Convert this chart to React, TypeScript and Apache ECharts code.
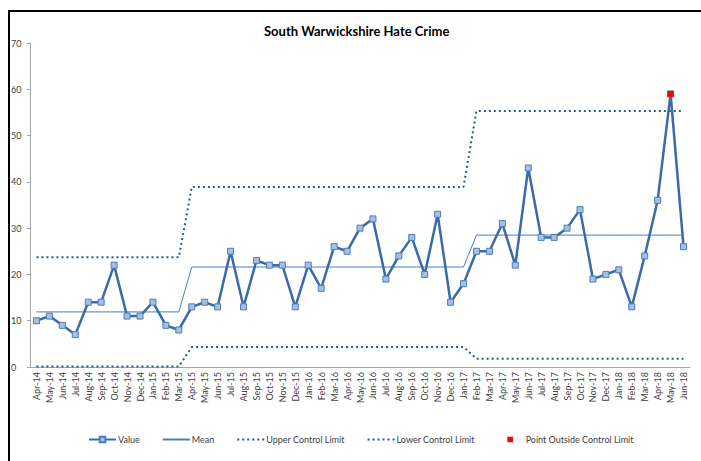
import React, { useEffect, useRef } from "react";
import * as echarts from "echarts";

const months: string[] = [
  "Apr-14","May-14","Jun-14","Jul-14","Aug-14","Sep-14","Oct-14","Nov-14","Dec-14","Jan-15","Feb-15","Mar-15",
  "Apr-15","May-15","Jun-15","Jul-15","Aug-15","Sep-15","Oct-15","Nov-15","Dec-15","Jan-16","Feb-16","Mar-16",
  "Apr-16","May-16","Jun-16","Jul-16","Aug-16","Sep-16","Oct-16","Nov-16","Dec-16","Jan-17","Feb-17","Mar-17",
  "Apr-17","May-17","Jun-17","Jul-17","Aug-17","Sep-17","Oct-17","Nov-17","Dec-17","Jan-18","Feb-18","Mar-18",
  "Apr-18","May-18","Jun-18",
];

const values: number[] = [
  10, 11, 9, 7, 14, 14, 22, 11, 11, 14, 9, 8,
  13, 14, 13, 25, 13, 23, 22, 22, 13, 22, 17, 26,
  25, 30, 32, 19, 24, 28, 20, 33, 14, 18, 25, 25,
  31, 22, 43, 28, 28, 30, 34, 19, 20, 21, 13, 24,
  36, 59, 26,
];

// Mean / control limits per phase (phase lengths in months)
const phaseLengths: number[] = [12, 22, 17];
const phaseMean: number[] = [11.9, 21.6, 28.5];
const phaseUpper: number[] = [23.7, 38.9, 55.3];
const phaseLower: number[] = [0.1, 4.3, 1.8];

const outsideIndex: number[] = [49];

const yTicks = { min: 0, max: 70, interval: 10 };

function expand(arr: number[]): number[] {
  const out: number[] = [];
  phaseLengths.forEach((len, i) => {
    for (let k = 0; k < len; k++) out.push(arr[i]);
  });
  return out;
}

export default function App() {
  const ref = useRef<HTMLDivElement>(null);
  useEffect(() => {
    if (!ref.current) return;
    const chart = echarts.init(ref.current, undefined, { renderer: "svg" });
    const mean = expand(phaseMean);
    const upper = expand(phaseUpper);
    const lower = expand(phaseLower);
    const outside = values.map((v, i) => (outsideIndex.includes(i) ? v : null));
    const font = "Lato, 'Open Sans', sans-serif";
    chart.setOption({
      animation: false,
      textStyle: { fontFamily: font },
      title: {
        text: "South Warwickshire Hate Crime",
        left: 259,
        top: 19,
        textStyle: { fontSize: 13, fontWeight: "bold", color: "#000", fontFamily: font },
      },
      graphic: [
        {
          type: "rect",
          shape: { x: 9, y: 11, width: 720, height: 480 },
          style: { fill: "none", stroke: "#000", lineWidth: 2 },
          silent: true,
        },
      ],
      grid: { left: 30, right: 11, top: 43, bottom: 94, containLabel: false },
      xAxis: {
        type: "category",
        data: months,
        boundaryGap: true,
        axisLine: { lineStyle: { color: "#a6a6a6", width: 1 } },
        axisTick: { show: false },
        axisLabel: {
          rotate: 90,
          interval: 0,
          fontSize: 9,
          color: "#404040",
          margin: 5,
          fontFamily: font,
        },
      },
      yAxis: {
        type: "value",
        min: yTicks.min,
        max: yTicks.max,
        interval: yTicks.interval,
        splitLine: { show: false },
        axisLine: { show: true, lineStyle: { color: "#a6a6a6" } },
        axisTick: { show: true, length: 3, lineStyle: { color: "#a6a6a6" } },
        axisLabel: { fontSize: 9, color: "#404040", margin: 19, fontFamily: font, align: "left" },
      },
      legend: {
        bottom: 12,
        left: 83,
        itemGap: 22,
        itemWidth: 27,
        itemHeight: 7,
        textStyle: { fontSize: 9, color: "#404040", fontFamily: font, padding: [0, 0, 0, -3] },
        data: [
          { name: "Value" },
          { name: "Mean", itemStyle: { opacity: 0 } },
          { name: "Upper Control Limit", itemStyle: { opacity: 0 } },
          { name: "Lower Control Limit", itemStyle: { opacity: 0 } },
          { name: "Point Outside Control Limit" },
        ],
      },
      series: [
        {
          name: "Mean",
          type: "line",
          data: mean,
          symbol: "none",
          lineStyle: { color: "#4a7ebb", width: 1 },
          itemStyle: { color: "#4a7ebb" },
          z: 2,
        },
        {
          name: "Upper Control Limit",
          type: "line",
          data: upper,
          symbol: "none",
          lineStyle: { color: "#2c5697", width: 2, type: [2, 3] },
          itemStyle: { color: "#2c5697" },
          z: 2,
        },
        {
          name: "Lower Control Limit",
          type: "line",
          data: lower,
          symbol: "none",
          lineStyle: { color: "#2c5697", width: 2, type: [2, 3] },
          itemStyle: { color: "#2c5697" },
          z: 2,
        },
        {
          name: "Value",
          type: "line",
          data: values,
          symbol: "rect",
          symbolSize: 6,
          showAllSymbol: true,
          lineStyle: { color: "#3a6aa8", width: 2.5 },
          itemStyle: { color: "#a7bfe3", borderColor: "#4a7ebb", borderWidth: 1 },
          z: 3,
        },
        {
          name: "Point Outside Control Limit",
          type: "line",
          data: outside,
          symbol: "rect",
          symbolSize: 6,
          showAllSymbol: true,
          connectNulls: false,
          lineStyle: { opacity: 0, width: 0 },
          itemStyle: { color: "#ff0000" },
          z: 4,
        },
      ],
    });
    return () => chart.dispose();
  }, []);
  return (
    <div
      ref={ref}
      style={{ position: "fixed", left: 0, top: 0, width: 701, height: 461, background: "#fff" }}
    />
  );
}
